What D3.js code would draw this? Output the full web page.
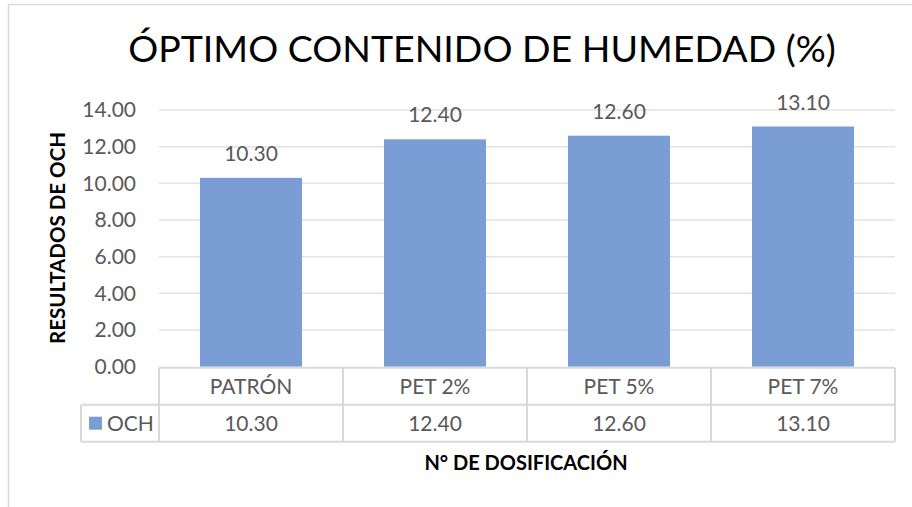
<!DOCTYPE html>
<html>
<head>
<meta charset="utf-8">
<script src="https://cdn.jsdelivr.net/npm/d3@7"></script>
<style>
  body { margin: 0; background: #fff; }
  svg text { font-family: Lato, 'Open Sans', sans-serif; }
</style>
</head>
<body>
<div id="chart"></div>
<script>
// data
const categories = ["PATRÓN", "PET 2%", "PET 5%", "PET 7%"];
const och = [10.30, 12.40, 12.60, 13.10];
const yTicks = [0, 2, 4, 6, 8, 10, 12, 14];
const seriesName = "OCH";

const width = 912, height = 507;
const plot = { left: 159, right: 895, top: 110, bottom: 366.7 };
const rowH = 37;
const barColor = "#7a9dd6";
const gridColor = "#e3e3e3";
const textColor = "#595959";
const fs = 21;

const svg = d3.select("#chart").append("svg")
  .attr("width", width).attr("height", height);

// chart frame (only top and left visible in crop)
svg.append("line").attr("x1", 8.5).attr("x2", width).attr("y1", 4.5).attr("y2", 4.5)
  .attr("stroke", "#d9d9d9").attr("stroke-width", 1.5);
svg.append("line").attr("x1", 8.5).attr("x2", 8.5).attr("y1", 4.5).attr("y2", height)
  .attr("stroke", "#d9d9d9").attr("stroke-width", 1.5);

const x = d3.scaleBand().domain(categories).range([plot.left, plot.right]).paddingInner(0).paddingOuter(0);
const y = d3.scaleLinear().domain([0, 14]).range([plot.bottom, plot.top]);

// title
svg.append("text")
  .attr("x", 482).attr("y", 62)
  .attr("text-anchor", "middle")
  .attr("font-size", 37.5)
  .attr("fill", "#000")
  .text("ÓPTIMO CONTENIDO DE HUMEDAD (%)");

// gridlines
svg.append("g").selectAll("line").data(yTicks.filter(d => d > 0)).join("line")
  .attr("x1", plot.left).attr("x2", plot.right)
  .attr("y1", d => y(d)).attr("y2", d => y(d))
  .attr("stroke", gridColor).attr("stroke-width", 1.5);

// y axis labels
const yAxis = d3.axisLeft(y).tickValues(yTicks).tickFormat(d3.format(".2f")).tickSize(0).tickPadding(0);
const gy = svg.append("g").attr("transform", `translate(136,0)`).call(yAxis);
gy.select(".domain").remove();
gy.selectAll("text").attr("font-size", fs).attr("fill", textColor)
  .style("font-family", "Lato, 'Open Sans', sans-serif");

// bars
const bw = 102;
svg.append("g").selectAll("rect").data(och).join("rect")
  .attr("x", (d, i) => x(categories[i]) + x.bandwidth() / 2 - bw / 2)
  .attr("width", bw)
  .attr("y", d => y(d))
  .attr("height", d => y(0) - y(d))
  .attr("fill", barColor);

// data labels
svg.append("g").selectAll("text").data(och).join("text")
  .attr("x", (d, i) => x(categories[i]) + x.bandwidth() / 2)
  .attr("y", d => y(d) - 17)
  .attr("text-anchor", "middle")
  .attr("font-size", fs).attr("fill", textColor)
  .text(d => d3.format(".2f")(d));

// data table
const t = svg.append("g");
const tTop = plot.bottom + 1, legendLeft = 81;
const lineStyle = s => s.attr("stroke", "#d9d9d9").attr("stroke-width", 2);
// horizontal lines
t.append("line").attr("x1", plot.left).attr("x2", plot.right).attr("y1", tTop).attr("y2", tTop).call(lineStyle);
t.append("line").attr("x1", legendLeft).attr("x2", plot.right).attr("y1", tTop + rowH).attr("y2", tTop + rowH).call(lineStyle);
t.append("line").attr("x1", legendLeft).attr("x2", plot.right).attr("y1", tTop + 2 * rowH).attr("y2", tTop + 2 * rowH).call(lineStyle);
// vertical lines
const vx = categories.map(c => x(c)).concat([plot.right]);
t.selectAll("line.v").data(vx).join("line").attr("class", "v")
  .attr("x1", d => d).attr("x2", d => d)
  .attr("y1", tTop).attr("y2", tTop + 2 * rowH).call(lineStyle);
t.append("line").attr("x1", legendLeft).attr("x2", legendLeft)
  .attr("y1", tTop + rowH).attr("y2", tTop + 2 * rowH).call(lineStyle);

t.selectAll("text.cat").data(categories).join("text").attr("class", "cat")
  .attr("x", d => x(d) + x.bandwidth() / 2)
  .attr("y", tTop + rowH / 2 + 7.5)
  .attr("text-anchor", "middle")
  .attr("font-size", fs).attr("fill", textColor)
  .text(d => d);
t.selectAll("text.val").data(och).join("text").attr("class", "val")
  .attr("x", (d, i) => x(categories[i]) + x.bandwidth() / 2)
  .attr("y", tTop + rowH * 1.5 + 7.5)
  .attr("text-anchor", "middle")
  .attr("font-size", fs).attr("fill", textColor)
  .text(d => d3.format(".2f")(d));

// legend key
t.append("rect").attr("x", 89).attr("y", tTop + rowH + 12).attr("width", 13).attr("height", 13).attr("fill", barColor);
t.append("text").attr("x", 107).attr("y", tTop + rowH * 1.5 + 7.5)
  .attr("font-size", fs).attr("fill", textColor).text(seriesName);

// axis titles
svg.append("text")
  .attr("x", 526).attr("y", 470)
  .attr("text-anchor", "middle")
  .attr("font-size", 20).attr("font-weight", "bold").attr("fill", "#000")
  .text("N° DE DOSIFICACIÓN");

svg.append("text")
  .attr("transform", "translate(65,238) rotate(-90)")
  .attr("text-anchor", "middle")
  .attr("font-size", 20.5).attr("font-weight", "bold").attr("fill", "#000")
  .text("RESULTADOS DE OCH");
</script>
</body>
</html>
